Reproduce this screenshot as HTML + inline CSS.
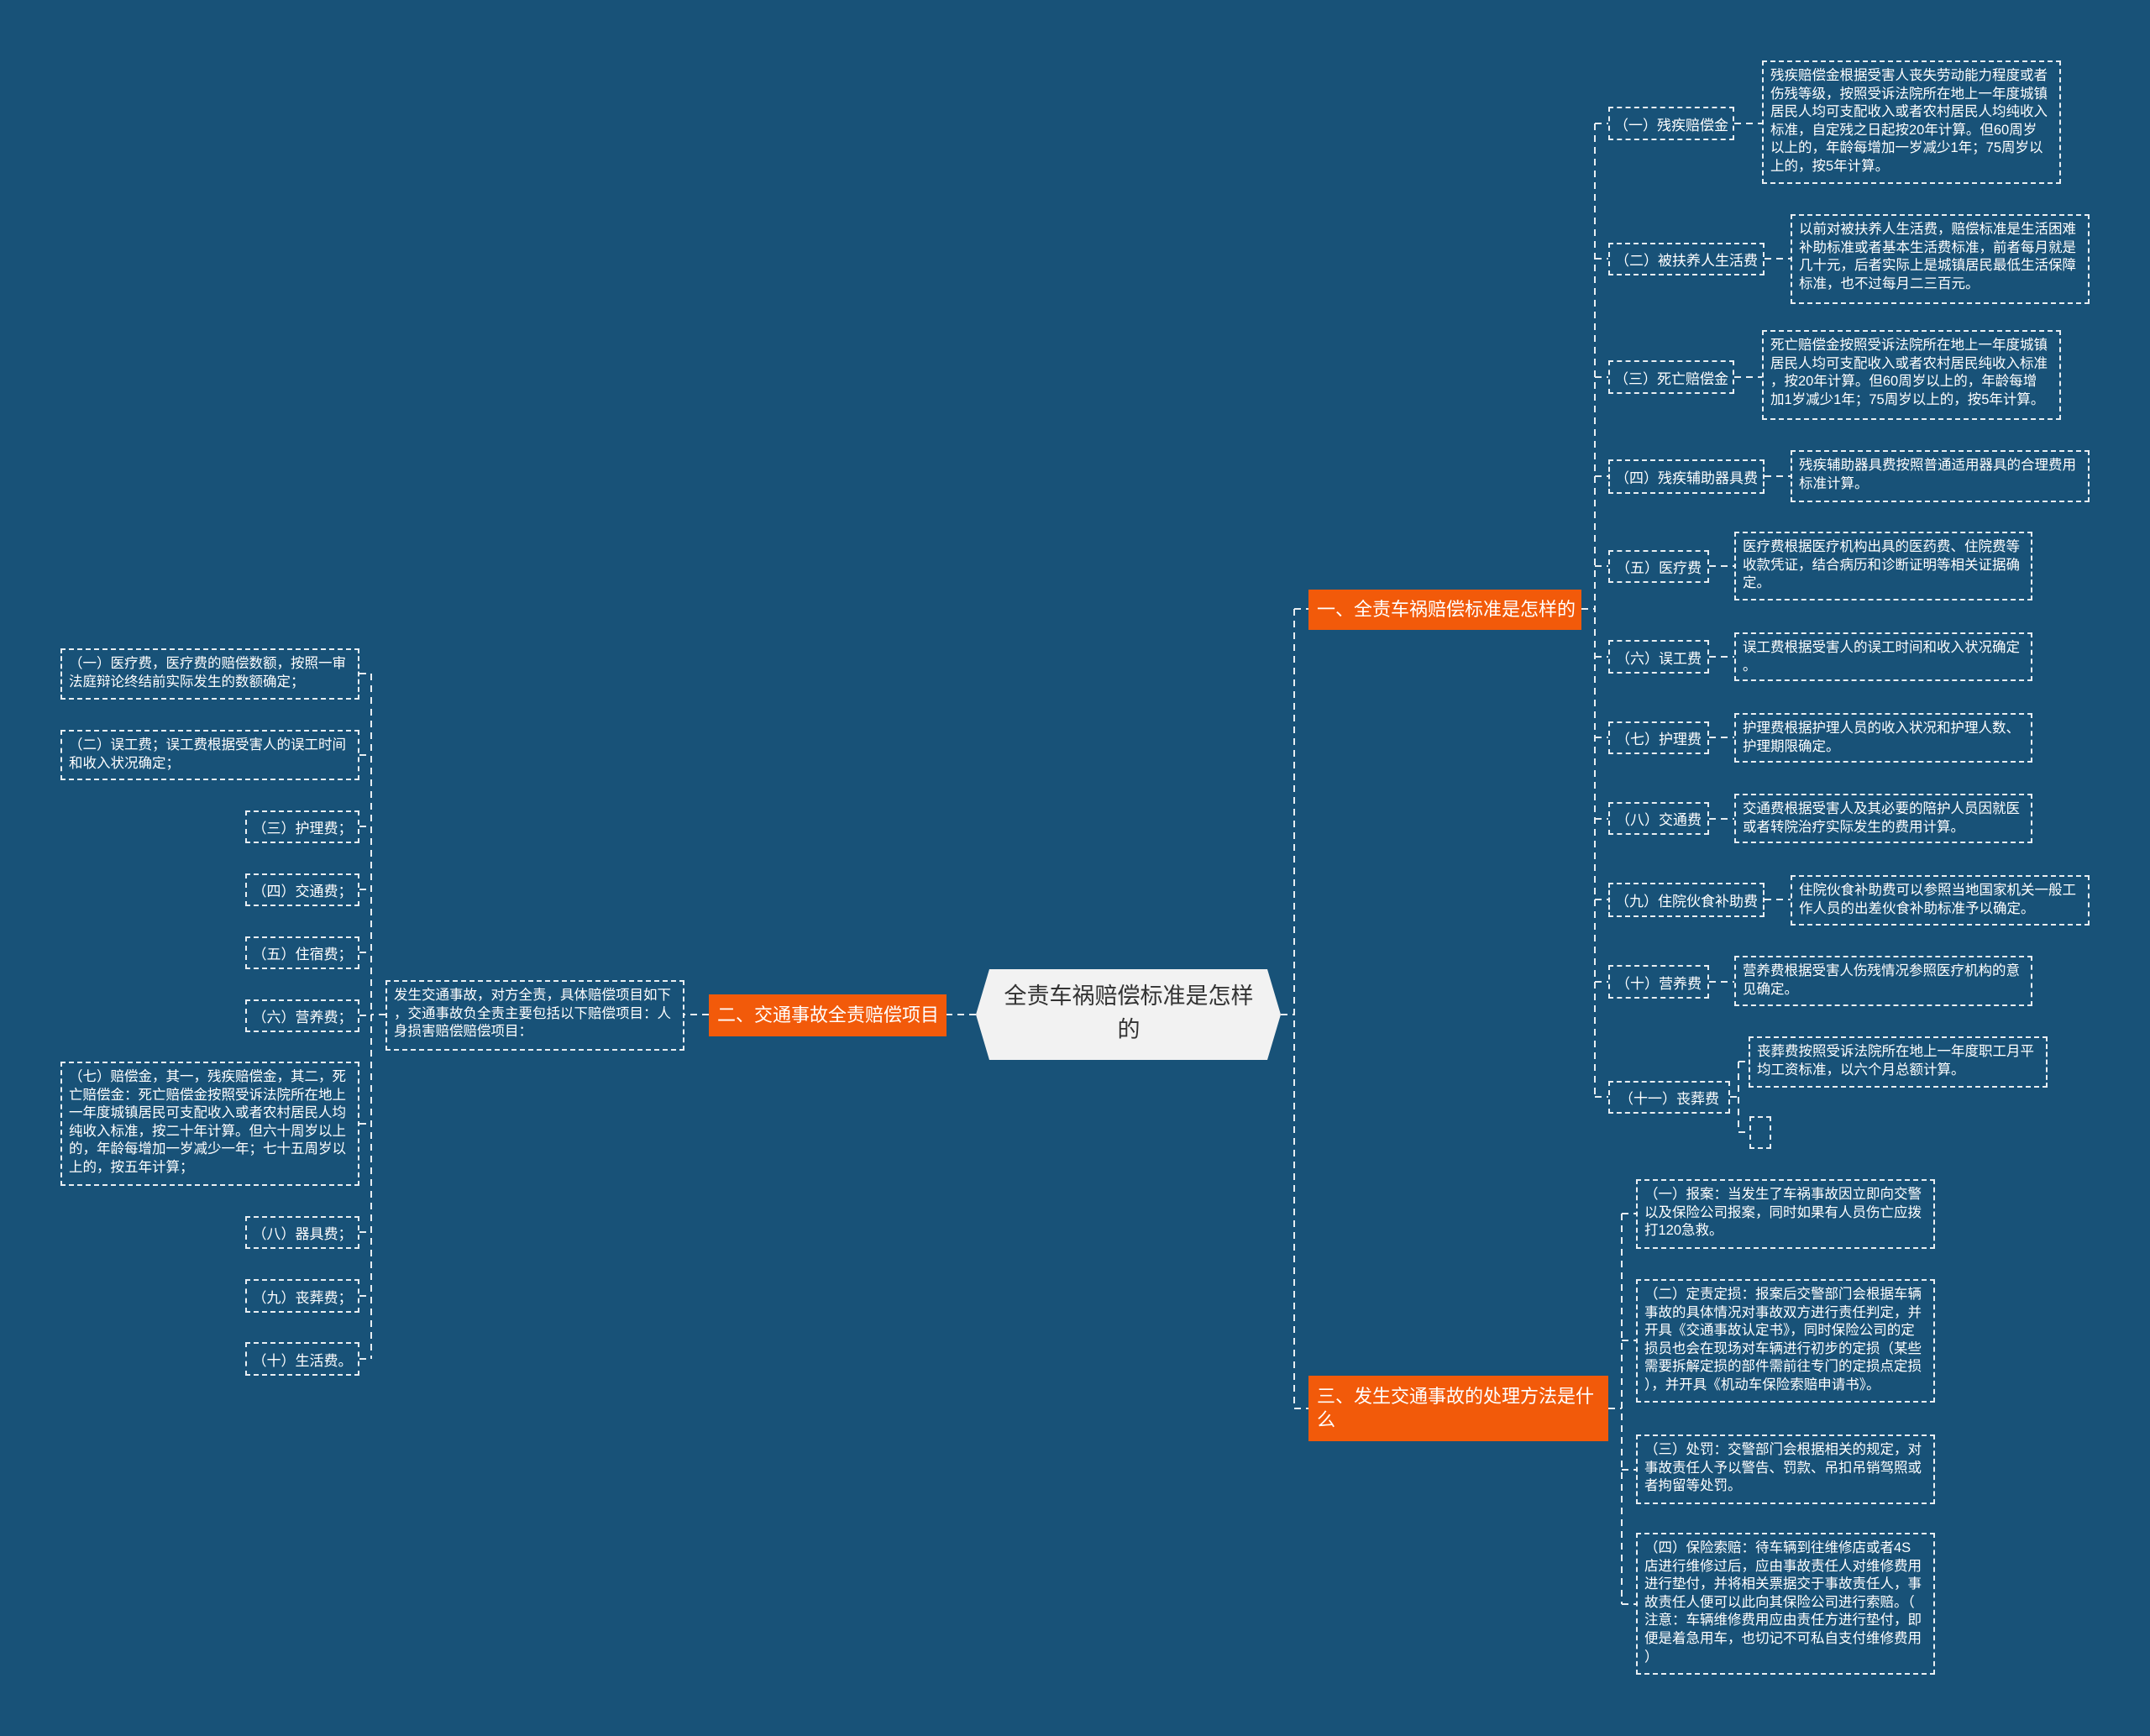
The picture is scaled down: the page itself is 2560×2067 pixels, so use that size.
<!DOCTYPE html>
<html><head><meta charset="utf-8"><style>
body{margin:0;width:2560px;height:2067px;background:#185278;overflow:hidden;position:relative;font-family:"Liberation Sans","Noto Sans CJK SC",sans-serif;color:#fff}
.b{position:absolute;box-sizing:border-box;border:2px dashed #e8eef2;font-size:16.5px;line-height:21.6px;padding:6px 8px;white-space:nowrap}
.l{position:absolute;box-sizing:border-box;border:2px dashed #e8eef2;font-size:17px;display:flex;align-items:center;justify-content:center;white-space:nowrap}
.o{position:absolute;box-sizing:border-box;background:#f25a0a;color:#fff;font-size:22px;line-height:28px;padding:0 10px;display:flex;align-items:center;white-space:nowrap}
svg{position:absolute;left:0;top:0}
</style></head><body>
<svg width="2560" height="2067"><g stroke="#e8eef2" stroke-width="2" stroke-dasharray="8,6" fill="none">
<!-- center to branches -->
<path d="M1525 1208 H1541 M1541 725 V1677 M1541 725 H1558 M1541 1677 H1558"/>
<path d="M1162 1208 H1127"/>
<!-- branch1 -->
<path d="M1883 725 H1899 M1899 147 V1306"/>
<path d="M1899 147H1915 M1899 308H1915 M1899 449H1915 M1899 567H1915 M1899 674H1915 M1899 782H1915 M1899 878H1915 M1899 975H1915 M1899 1071H1915 M1899 1169H1915 M1899 1306H1915"/>
<path d="M2065 147H2098 M2101 308H2132 M2065 449H2098 M2101 567H2132 M2035 674H2065 M2035 782H2065 M2035 878H2065 M2035 975H2065 M2101 1071H2132 M2035 1169H2065"/>
<path d="M2060 1306H2070 M2070 1264V1348 M2070 1264H2082 M2070 1348H2083"/>
<!-- branch3 -->
<path d="M1915 1677H1931 M1931 1445V1910 M1931 1445H1948 M1931 1596H1948 M1931 1750H1948 M1931 1910H1948"/>
<!-- branch2 -->
<path d="M844 1208H815 M459 1208H442 M442 802V1618"/>
<path d="M428 802H442 M428 899H442 M428 984H442 M428 1059H442 M428 1134H442 M428 1209H442 M428 1338H442 M428 1467H442 M428 1543H442 M428 1618H442"/>
</g></svg>

<svg width="2560" height="2067"><polygon points="1178,1154 1509,1154 1525,1208 1509,1262 1178,1262 1162,1208" fill="#f2f2f2"/></svg>
<div style="position:absolute;left:1172px;top:1166px;width:344px;text-align:center;color:#333;font-size:27px;line-height:40px">全责车祸赔偿标准是怎样<br>的</div>

<div class="o" style="left:1558px;top:702px;width:325px;height:48px">一、全责车祸赔偿标准是怎样的</div>
<div class="o" style="left:844px;top:1184px;width:283px;height:50px">二、交通事故全责赔偿项目</div>
<div class="o" style="left:1558px;top:1638px;width:357px;height:78px;white-space:normal">三、发生交通事故的处理方法是什么</div>

<div class="l" style="left:1915px;top:127px;width:150px;height:40px">（一）残疾赔偿金</div>
<div class="b" style="left:2098px;top:72px;width:356px;height:147px">残疾赔偿金根据受害人丧失劳动能力程度或者<br>伤残等级，按照受诉法院所在地上一年度城镇<br>居民人均可支配收入或者农村居民人均纯收入<br>标准，自定残之日起按20年计算。但60周岁<br>以上的，年龄每增加一岁减少1年；75周岁以<br>上的，按5年计算。</div>
<div class="l" style="left:1915px;top:289px;width:186px;height:39px">（二）被扶养人生活费</div>
<div class="b" style="left:2132px;top:255px;width:356px;height:107px">以前对被扶养人生活费，赔偿标准是生活困难<br>补助标准或者基本生活费标准，前者每月就是<br>几十元，后者实际上是城镇居民最低生活保障<br>标准，也不过每月二三百元。</div>
<div class="l" style="left:1915px;top:429px;width:150px;height:40px">（三）死亡赔偿金</div>
<div class="b" style="left:2098px;top:393px;width:356px;height:107px">死亡赔偿金按照受诉法院所在地上一年度城镇<br>居民人均可支配收入或者农村居民纯收入标准<br>，按20年计算。但60周岁以上的，年龄每增<br>加1岁减少1年；75周岁以上的，按5年计算。</div>
<div class="l" style="left:1915px;top:547px;width:186px;height:41px">（四）残疾辅助器具费</div>
<div class="b" style="left:2132px;top:536px;width:356px;height:62px">残疾辅助器具费按照普通适用器具的合理费用<br>标准计算。</div>
<div class="l" style="left:1915px;top:655px;width:120px;height:39px">（五）医疗费</div>
<div class="b" style="left:2065px;top:633px;width:355px;height:82px">医疗费根据医疗机构出具的医药费、住院费等<br>收款凭证，结合病历和诊断证明等相关证据确<br>定。</div>
<div class="l" style="left:1915px;top:762px;width:120px;height:40px">（六）误工费</div>
<div class="b" style="left:2065px;top:753px;width:355px;height:58px">误工费根据受害人的误工时间和收入状况确定<br>。</div>
<div class="l" style="left:1915px;top:859px;width:120px;height:39px">（七）护理费</div>
<div class="b" style="left:2065px;top:849px;width:355px;height:59px">护理费根据护理人员的收入状况和护理人数、<br>护理期限确定。</div>
<div class="l" style="left:1915px;top:955px;width:120px;height:39px">（八）交通费</div>
<div class="b" style="left:2065px;top:945px;width:355px;height:59px">交通费根据受害人及其必要的陪护人员因就医<br>或者转院治疗实际发生的费用计算。</div>
<div class="l" style="left:1915px;top:1051px;width:186px;height:41px">（九）住院伙食补助费</div>
<div class="b" style="left:2132px;top:1042px;width:356px;height:60px">住院伙食补助费可以参照当地国家机关一般工<br>作人员的出差伙食补助标准予以确定。</div>
<div class="l" style="left:1915px;top:1149px;width:120px;height:40px">（十）营养费</div>
<div class="b" style="left:2065px;top:1138px;width:355px;height:60px">营养费根据受害人伤残情况参照医疗机构的意<br>见确定。</div>
<div class="l" style="left:1915px;top:1287px;width:145px;height:39px">（十一）丧葬费</div>
<div class="b" style="left:2082px;top:1234px;width:356px;height:61px">丧葬费按照受诉法院所在地上一年度职工月平<br>均工资标准，以六个月总额计算。</div>
<div class="b" style="left:2083px;top:1329px;width:26px;height:39px;padding:0"></div>

<div class="b" style="left:1948px;top:1404px;width:356px;height:83px">（一）报案：当发生了车祸事故因立即向交警<br>以及保险公司报案，同时如果有人员伤亡应拨<br>打120急救。</div>
<div class="b" style="left:1948px;top:1523px;width:356px;height:147px">（二）定责定损：报案后交警部门会根据车辆<br>事故的具体情况对事故双方进行责任判定，并<br>开具《交通事故认定书》，同时保险公司的定<br>损员也会在现场对车辆进行初步的定损（某些<br>需要拆解定损的部件需前往专门的定损点定损<br>），并开具《机动车保险索赔申请书》。</div>
<div class="b" style="left:1948px;top:1708px;width:356px;height:83px">（三）处罚：交警部门会根据相关的规定，对<br>事故责任人予以警告、罚款、吊扣吊销驾照或<br>者拘留等处罚。</div>
<div class="b" style="left:1948px;top:1825px;width:356px;height:169px">（四）保险索赔：待车辆到往维修店或者4S<br>店进行维修过后，应由事故责任人对维修费用<br>进行垫付，并将相关票据交于事故责任人，事<br>故责任人便可以此向其保险公司进行索赔。（<br>注意：车辆维修费用应由责任方进行垫付，即<br>便是着急用车，也切记不可私自支付维修费用<br>）</div>

<div class="b" style="left:459px;top:1167px;width:356px;height:84px">发生交通事故，对方全责，具体赔偿项目如下<br>，交通事故负全责主要包括以下赔偿项目：人<br>身损害赔偿赔偿项目：</div>
<div class="b" style="left:72px;top:772px;width:356px;height:61px">（一）医疗费，医疗费的赔偿数额，按照一审<br>法庭辩论终结前实际发生的数额确定；</div>
<div class="b" style="left:72px;top:869px;width:356px;height:60px">（二）误工费；误工费根据受害人的误工时间<br>和收入状况确定；</div>
<div class="l" style="left:292px;top:965px;width:136px;height:39px">（三）护理费；</div>
<div class="l" style="left:292px;top:1040px;width:136px;height:39px">（四）交通费；</div>
<div class="l" style="left:292px;top:1115px;width:136px;height:39px">（五）住宿费；</div>
<div class="l" style="left:292px;top:1190px;width:136px;height:39px">（六）营养费；</div>
<div class="b" style="left:72px;top:1264px;width:356px;height:148px">（七）赔偿金，其一，残疾赔偿金，其二，死<br>亡赔偿金：死亡赔偿金按照受诉法院所在地上<br>一年度城镇居民可支配收入或者农村居民人均<br>纯收入标准，按二十年计算。但六十周岁以上<br>的，年龄每增加一岁减少一年；七十五周岁以<br>上的，按五年计算；</div>
<div class="l" style="left:292px;top:1448px;width:136px;height:39px">（八）器具费；</div>
<div class="l" style="left:292px;top:1523px;width:136px;height:40px">（九）丧葬费；</div>
<div class="l" style="left:292px;top:1598px;width:136px;height:40px">（十）生活费。</div>
</body></html>
